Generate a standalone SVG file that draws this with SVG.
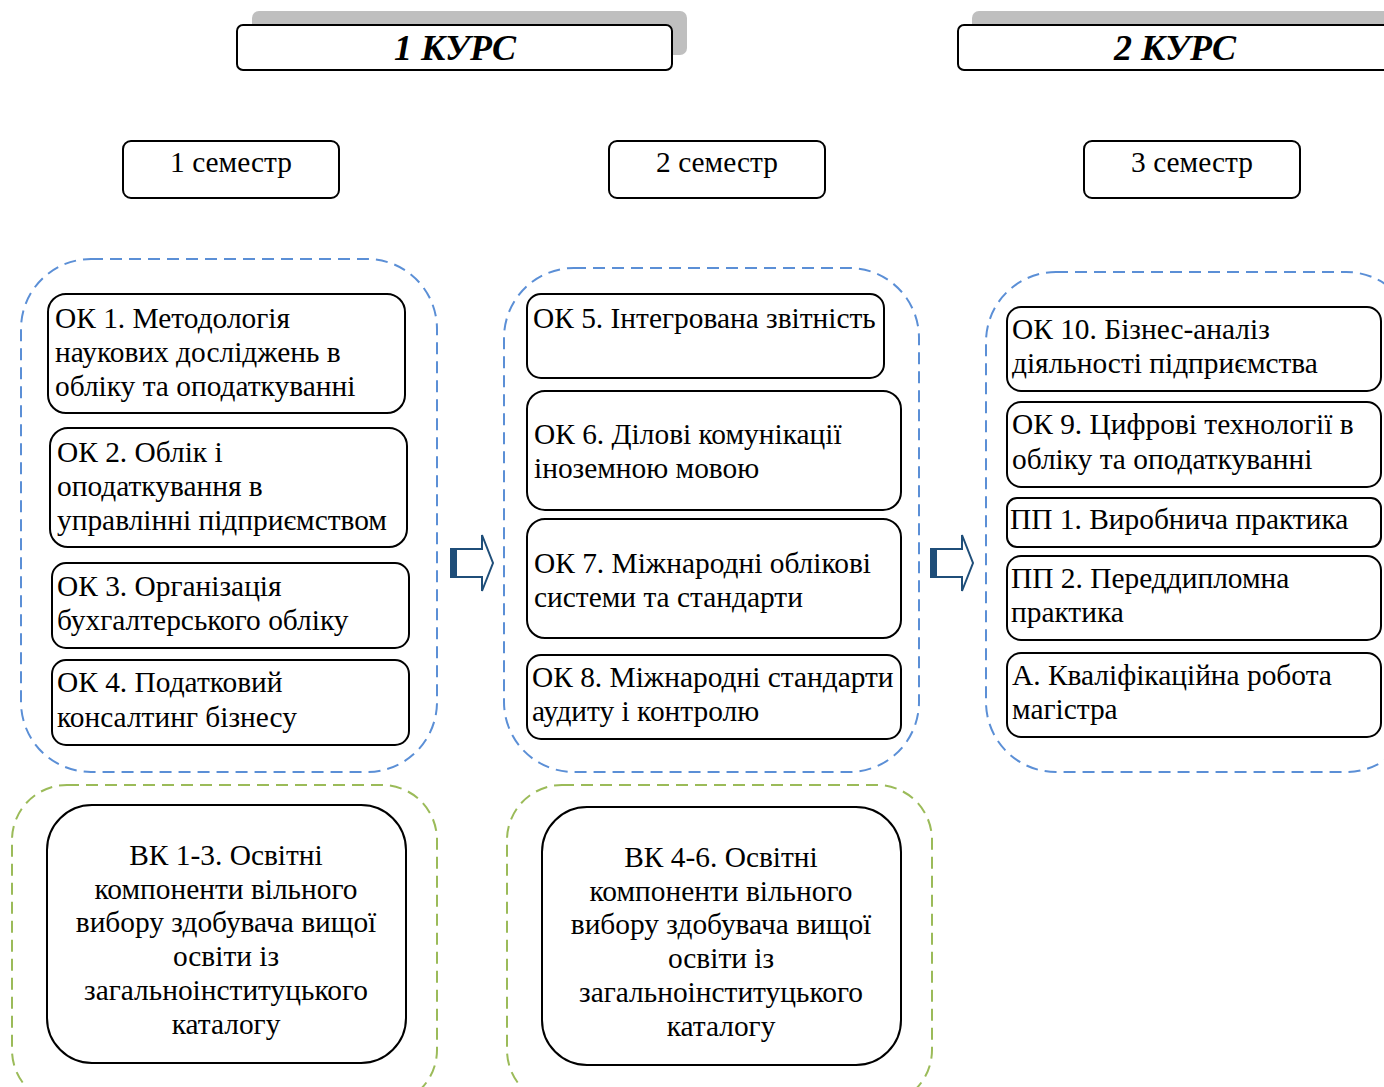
<svg xmlns="http://www.w3.org/2000/svg" width="1384" height="1087" viewBox="0 0 1384 1087">
<style>
  .t { font-family: "Liberation Serif", "Times New Roman", serif; font-size: 29.4px; fill: #000; }
  .tc { text-anchor: middle; }
  .hd { font-family: "Liberation Serif", "Times New Roman", serif; font-size: 36px; font-weight: bold; font-style: italic; text-anchor: middle; }
  .box { fill: #fff; stroke: #000; stroke-width: 2; }
  .shadow { fill: #bfbfbf; }
  .blue { fill: none; stroke: #5b8fd6; stroke-width: 2; stroke-dasharray: 12 7; }
  .green { fill: none; stroke: #9bbb59; stroke-width: 2; stroke-dasharray: 12 7; }
  .arrow { fill: #fff; stroke: #1f4e79; stroke-width: 2; }
</style>
<rect width="1384" height="1087" fill="#fff"/>

<g id="year1">
  <rect class="shadow" x="252" y="11" width="435" height="44" rx="7"/>
  <rect class="box" x="237" y="25" width="435" height="45" rx="6"/>
  <text class="hd" x="455" y="60">1 КУРС</text>
</g>
<g id="year2">
  <rect class="shadow" x="972" y="11" width="440" height="44" rx="7"/>
  <rect class="box" x="958" y="25" width="440" height="45" rx="6"/>
  <text class="hd" x="1175" y="60">2 КУРС</text>
</g>

<g id="sem1">
  <rect class="box" x="123" y="141" width="216" height="57" rx="8"/>
  <text class="t tc" x="231" y="172">1 семестр</text>
</g>
<g id="sem2">
  <rect class="box" x="609" y="141" width="216" height="57" rx="8"/>
  <text class="t tc" x="717" y="172">2 семестр</text>
</g>
<g id="sem3">
  <rect class="box" x="1084" y="141" width="216" height="57" rx="8"/>
  <text class="t tc" x="1192" y="172">3 семестр</text>
</g>

<g id="group-sem1">
  <rect class="blue" x="21" y="259" width="416" height="513" rx="70"/>
</g>
<g id="group-sem2">
  <rect class="blue" x="504" y="268" width="415" height="504" rx="70"/>
</g>
<g id="group-sem3">
  <rect class="blue" x="986" y="272" width="430" height="500" rx="70"/>
</g>
<g id="group-vk1">
  <rect class="green" x="12" y="785" width="425" height="320" rx="55"/>
</g>
<g id="group-vk2">
  <rect class="green" x="507" y="785" width="425" height="320" rx="55"/>
</g>

<g id="ok1">
  <rect class="box" x="48" y="294" width="357" height="119" rx="18"/>
  <text class="t" x="55" y="328">ОК 1. Методологія</text>
  <text class="t" x="55" y="362">наукових досліджень в</text>
  <text class="t" x="55" y="396">обліку та оподаткуванні</text>
</g>
<g id="ok2">
  <rect class="box" x="50" y="428" width="357" height="119" rx="18"/>
  <text class="t" x="57" y="462">ОК 2. Облік і</text>
  <text class="t" x="57" y="496">оподаткування в</text>
  <text class="t" x="57" y="530">управлінні підприємством</text>
</g>
<g id="ok3">
  <rect class="box" x="52" y="563" width="357" height="85" rx="14"/>
  <text class="t" x="57" y="596">ОК 3. Організація</text>
  <text class="t" x="57" y="630">бухгалтерського обліку</text>
</g>
<g id="ok4">
  <rect class="box" x="52" y="660" width="357" height="85" rx="14"/>
  <text class="t" x="57" y="692">ОК 4. Податковий</text>
  <text class="t" x="57" y="727">консалтинг бізнесу</text>
</g>

<g id="ok5">
  <rect class="box" x="527" y="294" width="357" height="84" rx="14"/>
  <text class="t" x="533" y="328">ОК 5. Інтегрована звітність</text>
</g>
<g id="ok6">
  <rect class="box" x="527" y="391" width="374" height="119" rx="18"/>
  <text class="t" x="534" y="444">ОК 6. Ділові комунікації</text>
  <text class="t" x="534" y="478">іноземною мовою</text>
</g>
<g id="ok7">
  <rect class="box" x="527" y="519" width="374" height="119" rx="18"/>
  <text class="t" x="534" y="573">ОК 7. Міжнародні облікові</text>
  <text class="t" x="534" y="607">системи та стандарти</text>
</g>
<g id="ok8">
  <rect class="box" x="527" y="655" width="374" height="84" rx="14"/>
  <text class="t" x="532" y="687">ОК 8. Міжнародні стандарти</text>
  <text class="t" x="532" y="721">аудиту і контролю</text>
</g>

<g id="ok10">
  <rect class="box" x="1007" y="307" width="374" height="84" rx="14"/>
  <text class="t" x="1012" y="339">ОК 10. Бізнес-аналіз</text>
  <text class="t" x="1012" y="373">діяльності підприємства</text>
</g>
<g id="ok9">
  <rect class="box" x="1007" y="402" width="374" height="85" rx="14"/>
  <text class="t" x="1012" y="434">ОК 9. Цифрові технології в</text>
  <text class="t" x="1012" y="469">обліку та оподаткуванні</text>
</g>
<g id="pp1">
  <rect class="box" x="1007" y="498" width="374" height="49" rx="10"/>
  <text class="t" x="1010" y="529">ПП 1. Виробнича практика</text>
</g>
<g id="pp2">
  <rect class="box" x="1007" y="556" width="374" height="84" rx="14"/>
  <text class="t" x="1011" y="588">ПП 2. Переддипломна</text>
  <text class="t" x="1011" y="622">практика</text>
</g>
<g id="a">
  <rect class="box" x="1007" y="653" width="374" height="84" rx="14"/>
  <text class="t" x="1012" y="685">А. Кваліфікаційна робота</text>
  <text class="t" x="1012" y="719">магістра</text>
</g>

<g id="vk1">
  <rect class="box" x="47" y="805" width="359" height="258" rx="45"/>
  <text class="t tc" x="226" y="865">ВК 1-3. Освітні</text>
  <text class="t tc" x="226" y="899">компоненти вільного</text>
  <text class="t tc" x="226" y="932">вибору здобувача вищої</text>
  <text class="t tc" x="226" y="966">освіти із</text>
  <text class="t tc" x="226" y="1000">загальноінституцького</text>
  <text class="t tc" x="226" y="1034">каталогу</text>
</g>
<g id="vk2">
  <rect class="box" x="542" y="807" width="359" height="258" rx="45"/>
  <text class="t tc" x="721" y="867">ВК 4-6. Освітні</text>
  <text class="t tc" x="721" y="901">компоненти вільного</text>
  <text class="t tc" x="721" y="934">вибору здобувача вищої</text>
  <text class="t tc" x="721" y="968">освіти із</text>
  <text class="t tc" x="721" y="1002">загальноінституцького</text>
  <text class="t tc" x="721" y="1036">каталогу</text>
</g>

<g id="connectors">
  <g id="arrow1">
    <path class="arrow" d="M451 549 H482 V535 L493 563 L482 591 V577 H451 Z"/>
    <rect x="451" y="549" width="6" height="28" fill="#1f4e79"/>
  </g>
  <g id="arrow2">
    <path class="arrow" d="M931 549 H962 V535 L973 563 L962 591 V577 H931 Z"/>
    <rect x="931" y="549" width="6" height="28" fill="#1f4e79"/>
  </g>
</g>
</svg>
